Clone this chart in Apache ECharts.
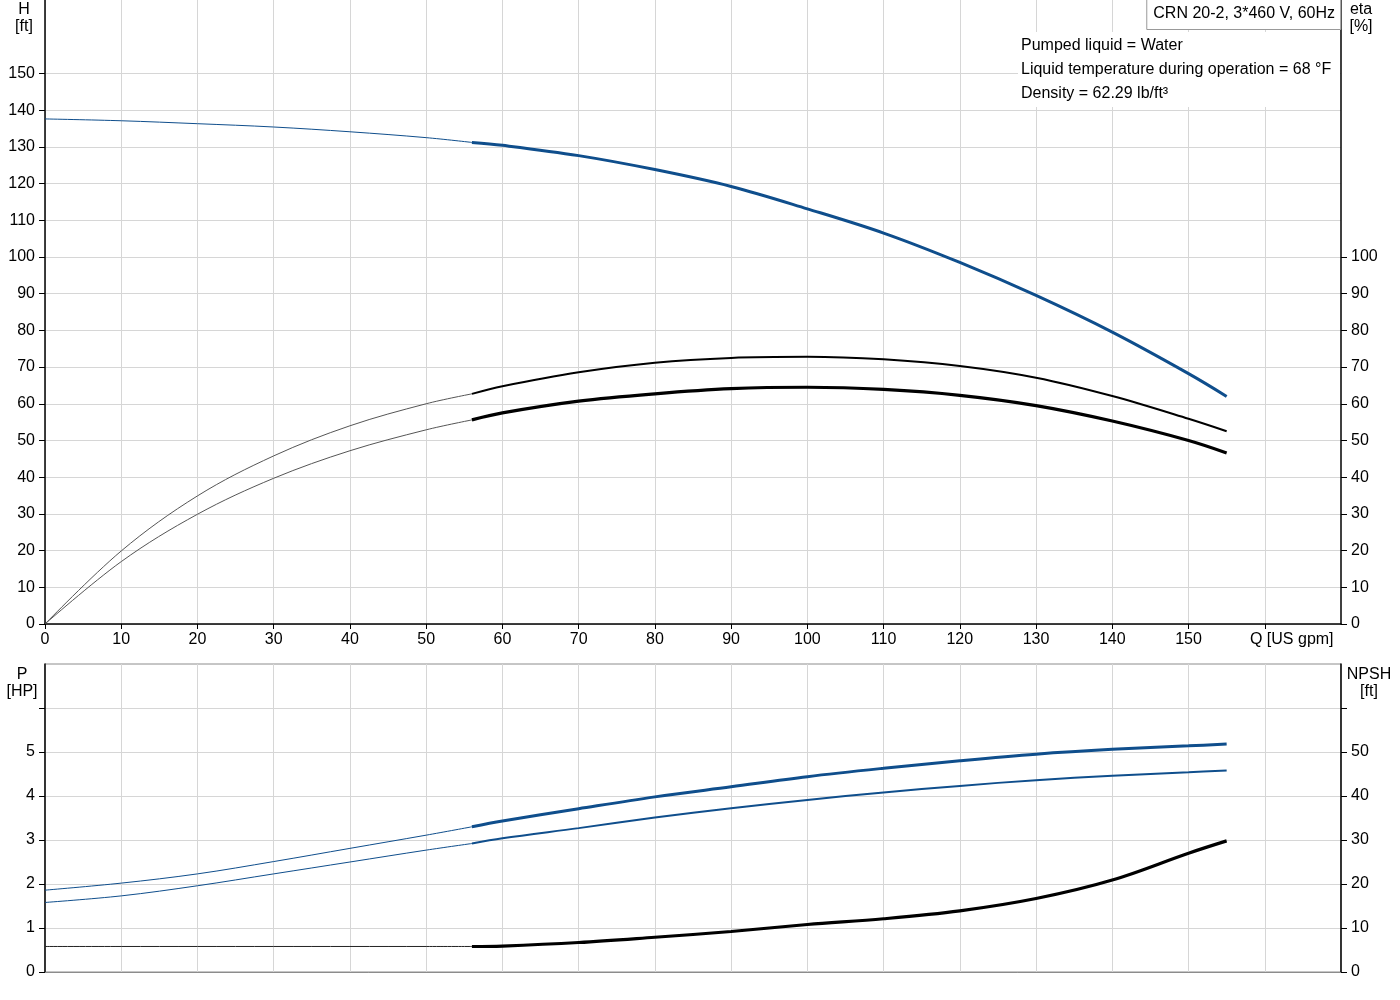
<!DOCTYPE html>
<html lang="en">
<head>
<meta charset="utf-8">
<title>CRN 20-2 pump curves</title>
<script src="https://cdn.jsdelivr.net/npm/echarts@6/dist/echarts.min.js"></script>
<style>
	html, body { margin: 0; padding: 0; background: #fff; }
	#chart { width: 1400px; height: 1000px; }
</style>
</head>
<body>
<div id="chart"></div>
<script type="text/javascript">
// flow points, thin part (outside recommended range) and thick part
var flowA = [0, 10, 20, 30, 40, 50, 56];
var flowB = [56, 60, 70, 80, 90, 100, 110, 120, 130, 140, 150, 155];

// head H [ft]
var headA = [137.6, 137.1, 136.3, 135.4, 134.1, 132.5, 131.2];
var headB = [131.2, 130.4, 127.6, 123.8, 119.2, 113.1, 106.5, 98.5, 89.5, 79.5, 68.2, 62.0];

// efficiency eta [%] - pump and total
var etaPumpA = [0, 19.9, 34.9, 45.8, 54.0, 60.0, 62.7];
var etaPumpB = [62.7, 64.8, 68.6, 71.2, 72.5, 72.8, 72.1, 70.3, 67.1, 62.1, 55.9, 52.5];
var etaTotalA = [0, 17.0, 29.9, 39.7, 47.2, 52.9, 55.6];
var etaTotalB = [55.6, 57.5, 60.7, 62.7, 64.1, 64.5, 63.9, 62.3, 59.5, 55.3, 50.0, 46.6];

// power P1 / P2 [HP]
var p1A = [1.86, 2.02, 2.23, 2.51, 2.81, 3.11, 3.30];
var p1B = [3.30, 3.43, 3.71, 3.98, 4.21, 4.44, 4.63, 4.80, 4.95, 5.06, 5.14, 5.18];
var p2A = [1.58, 1.73, 1.96, 2.23, 2.50, 2.77, 2.92];
var p2B = [2.92, 3.04, 3.27, 3.51, 3.72, 3.91, 4.08, 4.23, 4.36, 4.46, 4.54, 4.58];

// NPSH [ft]
var npshA = [5.8, 5.8, 5.8, 5.8, 5.8, 5.8, 5.8];
var npshB = [5.8, 5.9, 6.7, 7.9, 9.2, 10.8, 12.1, 13.9, 16.7, 20.9, 27.0, 29.8];

// tick labels
var qTicks = [0, 10, 20, 30, 40, 50, 60, 70, 80, 90, 100, 110, 120, 130, 140, 150, 160];
var hTicks = [0, 10, 20, 30, 40, 50, 60, 70, 80, 90, 100, 110, 120, 130, 140, 150];
var etaTicks = [0, 10, 20, 30, 40, 50, 60, 70, 80, 90, 100];
var pTicks = [0, 1, 2, 3, 4, 5, 6];
var pLabels = [0, 1, 2, 3, 4, 5];
var npshTicks = [0, 10, 20, 30, 40, 50, 60];
var npshLabels = [0, 10, 20, 30, 40, 50];

var infoLines = ['Pumped liquid = Water', 'Liquid temperature during operation = 68 °F', 'Density = 62.29 lb/ft³'];

var BLUE = '#0f4e8c';
var FONT = 'Liberation Sans, Arial, sans-serif';
var FS = 16;

function zip(xs, ys) {
	return xs.map(function (x, i) { return [x, ys[i]]; });
}

function line(name, xs, ys, xi, yi, color, width, z) {
	return {
		name: name,
		type: 'line',
		xAxisIndex: xi,
		yAxisIndex: yi,
		data: zip(xs, ys),
		smooth: 0.35,
		showSymbol: false,
		silent: true,
		z: z || 2,
		lineStyle: { color: color, width: width }
	};
}

var p1Series = line('P1', flowB, p1B, 1, 2, BLUE, 3, 4);
var p2Series = line('P2', flowB, p2B, 1, 2, BLUE, 2, 4);
p1Series.data[p1Series.data.length - 1] = {
	value: p1Series.data[p1Series.data.length - 1],
	label: { show: true, position: 'top', distance: 6, formatter: 'P1', color: BLUE, fontSize: FS, fontFamily: FONT }
};
p2Series.data[p2Series.data.length - 1] = {
	value: p2Series.data[p2Series.data.length - 1],
	label: { show: true, position: 'bottom', distance: 0, formatter: 'P2', color: BLUE, fontSize: FS, fontFamily: FONT }
};

var labelStyle = { color: '#000', fontSize: FS, fontFamily: FONT };
var gridLine = { show: true, lineStyle: { color: '#d6d6d6', width: 1 } };

var texts = [
	{ x: 24, y: 10, t: 'H' }, { x: 24, y: 27, t: '[ft]' },
	{ x: 1361, y: 10, t: 'eta' }, { x: 1361, y: 27, t: '[%]' },
	{ x: 22, y: 675, t: 'P' }, { x: 22, y: 692, t: '[HP]' },
	{ x: 1369, y: 675, t: 'NPSH' }, { x: 1369, y: 692, t: '[ft]' }
];
var graphics = texts.map(function (o) {
	return { type: 'text', x: o.x, y: o.y, z: 101, style: { text: o.t, fill: '#000', font: FS + 'px ' + FONT, textAlign: 'center', textVerticalAlign: 'middle' } };
});
// white panel behind the liquid info
graphics.push({ type: 'rect', x: 1018, y: 32, z: 100, shape: { width: 322, height: 75 }, style: { fill: '#fff' } });
infoLines.forEach(function (s, i) {
	graphics.push({ type: 'text', x: 1021, y: 46 + i * 24, z: 101, style: { text: s, fill: '#000', font: FS + 'px ' + FONT, textAlign: 'left', textVerticalAlign: 'middle' } });
});

var chart = echarts.init(document.getElementById('chart'), null, { renderer: 'canvas' });
chart.setOption({
	animation: false,
	backgroundColor: '#fff',
	title: {
		text: 'CRN 20-2, 3*460 V, 60Hz',
		right: 59,
		top: -1,
		padding: [7, 6, 8, 7],
		borderColor: '#999',
		borderWidth: 1,
		backgroundColor: '#fff',
		textStyle: { color: '#000', fontSize: FS, fontWeight: 'normal', fontFamily: FONT }
	},
	graphic: graphics,
	grid: [
		{ left: 45, right: 59, top: -2, height: 626 },
		{ left: 45, right: 59, top: 664, height: 308, show: true, borderColor: '#8c8c8c', borderWidth: 1 }
	],
	xAxis: [
		{
			type: 'value', gridIndex: 0, min: 0, max: 170, interval: 10,
			axisLine: { lineStyle: { color: '#000', width: 1.5 } },
			axisTick: { length: 5, lineStyle: { color: '#000' }, customValues: qTicks },
			axisLabel: {
				margin: 8, customValues: qTicks,
				color: '#000', fontSize: FS, fontFamily: FONT,
				formatter: function (v) { return v === 160 ? '{q|Q [US gpm]}' : String(v); },
				rich: { q: { color: '#000', fontSize: FS, fontFamily: FONT, padding: [0, 0, 0, 54] } }
			},
			splitLine: gridLine
		},
		{
			type: 'value', gridIndex: 1, min: 0, max: 170, interval: 10,
			axisLine: { lineStyle: { color: '#8c8c8c', width: 1 } },
			axisTick: { show: false },
			axisLabel: { show: false },
			splitLine: gridLine
		}
	],
	yAxis: [
		{
			type: 'value', gridIndex: 0, min: 0, max: 170, interval: 10,
			axisLine: { show: true, lineStyle: { color: '#000', width: 1.5 } },
			axisTick: { show: true, length: 6, lineStyle: { color: '#000' }, customValues: hTicks },
			axisLabel: Object.assign({ margin: 10, customValues: hTicks }, labelStyle),
			splitLine: gridLine
		},
		{
			type: 'value', gridIndex: 0, position: 'right', min: 0, max: 170, interval: 10,
			axisLine: { show: true, lineStyle: { color: '#000', width: 1.5 } },
			axisTick: { show: true, length: 6, lineStyle: { color: '#000' }, customValues: etaTicks },
			axisLabel: Object.assign({ margin: 10, customValues: etaTicks }, labelStyle),
			splitLine: { show: false }
		},
		{
			type: 'value', gridIndex: 1, min: 0, max: 7, interval: 1,
			axisLine: { show: true, lineStyle: { color: '#000', width: 1.5 } },
			axisTick: { show: true, length: 6, lineStyle: { color: '#000' }, customValues: pTicks },
			axisLabel: Object.assign({ margin: 10, customValues: pLabels }, labelStyle),
			splitLine: gridLine
		},
		{
			type: 'value', gridIndex: 1, position: 'right', min: 0, max: 70, interval: 10,
			axisLine: { show: true, lineStyle: { color: '#000', width: 1.5 } },
			axisTick: { show: true, length: 6, lineStyle: { color: '#000' }, customValues: npshTicks },
			axisLabel: Object.assign({ margin: 10, customValues: npshLabels }, labelStyle),
			splitLine: { show: false }
		}
	],
	series: [
		line('H', flowA, headA, 0, 0, BLUE, 1),
		line('H', flowB, headB, 0, 0, BLUE, 3, 4),
		line('eta pump', flowA, etaPumpA, 0, 1, '#555', 1),
		line('eta pump', flowB, etaPumpB, 0, 1, '#000', 2, 3),
		line('eta total', flowA, etaTotalA, 0, 1, '#555', 1),
		line('eta total', flowB, etaTotalB, 0, 1, '#000', 3.2, 3),
		line('P1', flowA, p1A, 1, 2, BLUE, 1),
		p1Series,
		line('P2', flowA, p2A, 1, 2, BLUE, 1),
		p2Series,
		line('NPSH', flowA, npshA, 1, 3, '#222', 1),
		line('NPSH', flowB, npshB, 1, 3, '#000', 3.2, 3)
	]
});
</script>
</body>
</html>
